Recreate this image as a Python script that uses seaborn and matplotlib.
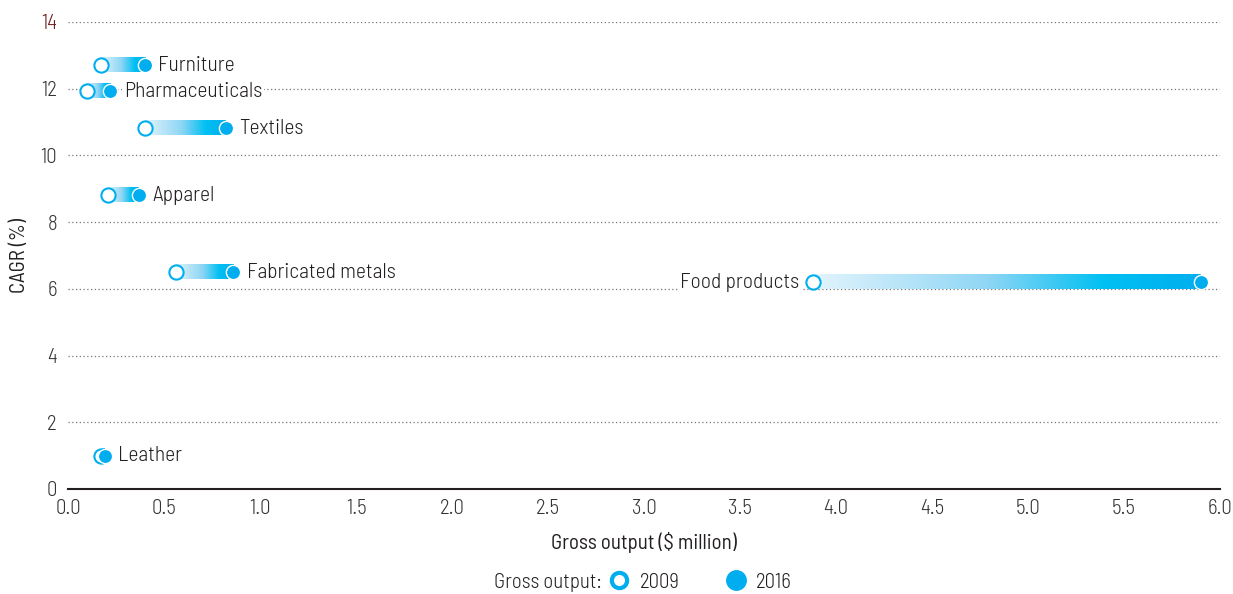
import matplotlib
matplotlib.use("Agg")
import matplotlib.pyplot as plt
from matplotlib.colors import LinearSegmentedColormap
from matplotlib.lines import Line2D
import numpy as np
import pandas as pd
import seaborn as sns

# Values
industries = ["Furniture", "Pharmaceuticals", "Textiles", "Apparel",
              "Fabricated metals", "Food products", "Leather"]
cagr = [12.7, 11.93, 10.82, 8.81, 6.5, 6.2, 0.99]
output_2009 = [0.17, 0.10, 0.40, 0.21, 0.56, 3.88, 0.17]
output_2016 = [0.40, 0.22, 0.82, 0.37, 0.86, 5.90, 0.19]
label_left = ["Food products"]

y_ticks = [0, 2, 4, 6, 8, 10, 12, 14]
x_ticks = [0.0, 0.5, 1.0, 1.5, 2.0, 2.5, 3.0, 3.5, 4.0, 4.5, 5.0, 5.5, 6.0]

cyan = "#00aeef"
ink = "#231f20"
grad = LinearSegmentedColormap.from_list(
    "bar", [(0, "#e2f4fc"), (0.45, "#8fd6f5"), (0.75, "#00c0f2"), (1, cyan)])

sns.set_style("white")
plt.rcParams['font.family'] = ['Barlow Semi Condensed', 'DejaVu Sans']
plt.rcParams['font.weight'] = 300

df = pd.DataFrame({"industry": industries, "cagr": cagr,
                   "x09": output_2009, "x16": output_2016})

fig = plt.figure(figsize=(12.33, 5.94), dpi=100)
ax = fig.add_axes([0.0552, 0.1768, 0.9343, 0.7862])

# Gradient bars between 2009 and 2016
bar_h = 0.42
for _, r in df.iterrows():
    ax.imshow(np.linspace(0, 1, 256).reshape(1, -1), cmap=grad, aspect="auto",
              extent=(r.x09, r.x16, r.cagr - bar_h / 2, r.cagr + bar_h / 2),
              zorder=3, interpolation="bilinear")

sns.scatterplot(data=df, x="x09", y="cagr", ax=ax, s=105, color="white",
                edgecolor=cyan, linewidth=1.5, zorder=4, legend=False)
sns.scatterplot(data=df, x="x16", y="cagr", ax=ax, s=105, color=cyan,
                edgecolor="white", linewidth=1.0, zorder=5, legend=False)

for _, r in df.iterrows():
    if r.industry in label_left:
        ax.text(r.x09 - 0.07, r.cagr, r.industry, ha="right", va="center",
                fontsize=15.5, color=ink, zorder=6,
                bbox=dict(facecolor="white", edgecolor="none", pad=1.5))
    else:
        ax.text(r.x16 + 0.07, r.cagr, r.industry, ha="left", va="center",
                fontsize=15.5, color=ink, zorder=6,
                bbox=dict(facecolor="white", edgecolor="none", pad=1.5))

# Dotted gridlines
for yt in y_ticks[1:]:
    ax.axhline(yt, color="#777777", linestyle=(0, (1, 2)), linewidth=0.9, zorder=1)

ax.set_xlim(0, 6.0)
ax.set_ylim(0, 14)
ax.set_xticks(x_ticks)
ax.set_xticklabels([f"{t:.1f}" for t in x_ticks])
ax.set_yticks(y_ticks)
ax.tick_params(axis="x", direction="in", length=6, color=ink,
               labelsize=15, labelcolor="#333333", pad=7)
ax.tick_params(axis="y", length=0, labelsize=15, labelcolor="#333333", pad=8)
ax.get_yticklabels()[-1].set_color("#6b1a1a")
ax.set_xlabel("Gross output ($ million)", fontsize=15, color=ink, labelpad=10)
ax.set_ylabel("CAGR (%)", fontsize=15, color=ink, labelpad=8)
sns.despine(ax=ax, left=True)
ax.spines["bottom"].set_color(ink)
ax.spines["bottom"].set_linewidth(1.5)

# Legend at bottom
handles = [
    Line2D([], [], linestyle="none", marker="o", markersize=11,
           markerfacecolor="white", markeredgecolor=cyan, markeredgewidth=3),
    Line2D([], [], linestyle="none", marker="o", markersize=14,
           markerfacecolor=cyan, markeredgecolor=cyan),
]
fig.text(0.488, 0.020, "Gross output:", ha="right", va="center",
         fontsize=15, color=ink)
fig.legend(handles, ["2009", "2016"], loc="center left", ncol=2,
           bbox_to_anchor=(0.4855, 0.020), frameon=False, fontsize=15,
           borderpad=0, handlelength=1.0, handletextpad=0.46,
           columnspacing=2.2, labelcolor=ink)

fig.savefig("out.png", dpi=100)
